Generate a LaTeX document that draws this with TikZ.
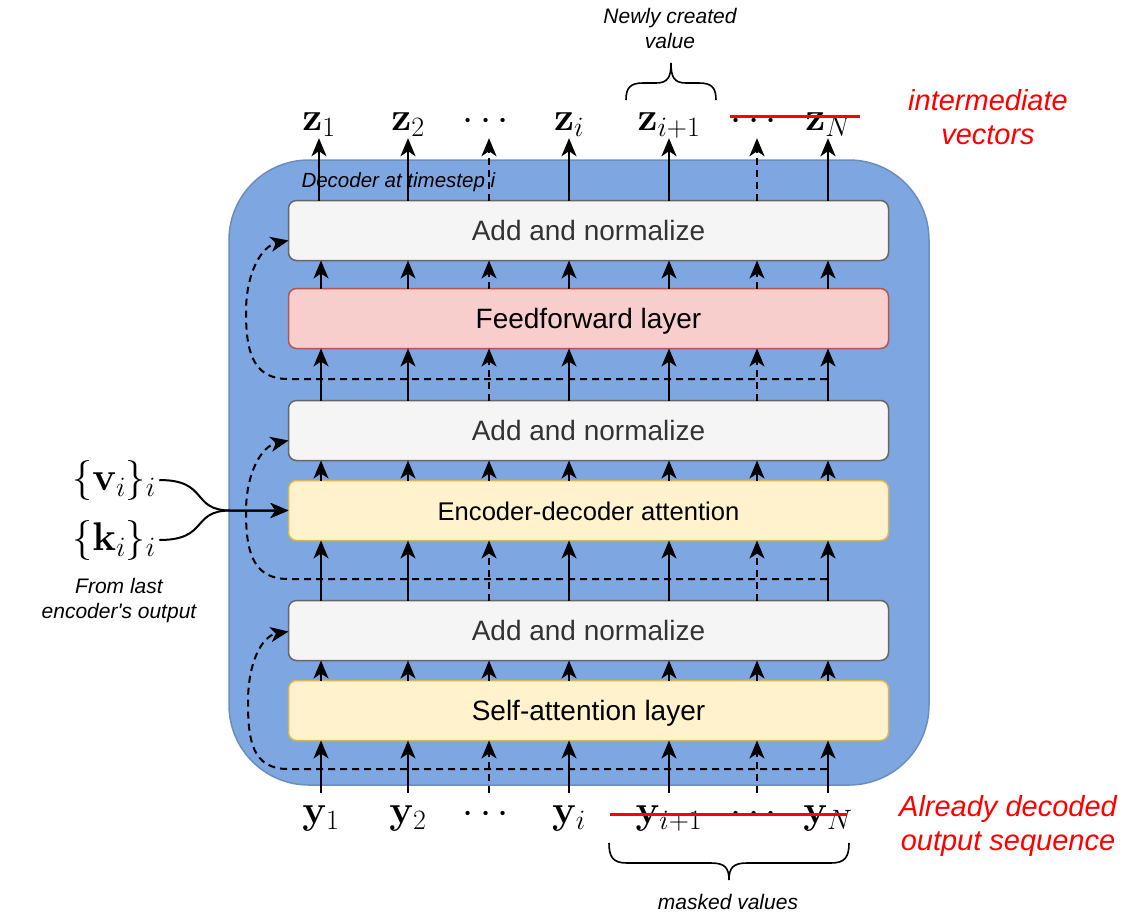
\RequirePackage{fix-cm}
\documentclass[tikz,border=0pt]{standalone}
\usepackage[no-math]{fontspec}
\setmainfont{Liberation Sans}
\usepackage{mathtools}
\usepackage{tikz}
\usetikzlibrary{positioning,arrows.meta}

\definecolor{decblue}{HTML}{7EA6E0}
\definecolor{decedge}{HTML}{6C8EBF}
\definecolor{normfill}{HTML}{F5F5F5}
\definecolor{normedge}{HTML}{666666}
\definecolor{normtext}{HTML}{333333}
\definecolor{fffill}{HTML}{F8CECC}
\definecolor{ffedge}{HTML}{B85450}
\definecolor{attfill}{HTML}{FFF2CC}
\definecolor{attedge}{HTML}{D6B656}

\tikzset{
  layerbox/.style = {shape = rectangle, rounded corners = 8pt, line width = 1.5pt,
    minimum width = 600pt, minimum height = 60pt, inner sep = 0pt, outer sep = 0pt,
    text height = 20.5pt, text depth = 0.5pt},
  normbox/.style = {layerbox, fill = normfill, draw = normedge, text = normtext,
    font = \fontsize{28}{32}\selectfont},
  ffbox/.style = {layerbox, fill = fffill, draw = ffedge, font = \fontsize{28}{32}\selectfont},
  attbox/.style = {layerbox, fill = attfill, draw = attedge, font = \fontsize{28}{32}\selectfont},
  veclbl/.style = {anchor = base, inner sep = 2pt, text height = 28pt, text depth = 6pt,
    font = \fontsize{40}{48}\selectfont},
  notelbl/.style = {align = center, font = \fontsize{21}{25}\selectfont\itshape},
  redlbl/.style = {align = center, text = red, font = \fontsize{29}{34}\selectfont\itshape},
  arr/.style = {line width = 2pt, -{Stealth[length = 18pt, width = 15pt, inset = 5pt]}},
  keep/.style = {},
  skip/.style = {dash pattern = on 7pt off 5pt},
  res/.style = {arr, skip},
  strike/.style = {line width = 3pt, red}
}

\begin{document}
\begin{tikzpicture}[x = 1pt, y = -1pt]
\useasboundingbox (0,0) rectangle (1130,922);

\node[shape = rectangle, rounded corners = 80pt, fill = decblue, draw = decedge, line width = 1.5pt,
  minimum width = 700pt, minimum height = 625pt] (10) at (579,472.5) {};
\node[anchor = west, font = \fontsize{20.5}{24}\selectfont\itshape] (50) at (298,182) {Decoder at timestep i};

\node[normbox] (11) at (588.5,230.5) {Add and normalize};
\node[ffbox, below = 28pt of 11] (12) {Feedforward layer};
\node[normbox, below = 52pt of 12] (13) {Add and normalize};
\node[attbox, below = 20pt of 13, font = \fontsize{25.6}{30}\selectfont] (14) {Encoder-decoder attention};
\node[normbox, below = 60pt of 14] (15) {Add and normalize};
\node[attbox, below = 20pt of 15] (16) {Self-attention layer};

% outputs
\node[veclbl] (21) at (319,130) {$\mathbf{z}_1$};
\node[veclbl] (22) at (408,130) {$\mathbf{z}_2$};
\node[veclbl] (23) at (489,130) {$\cdots$};
\node[veclbl] (24) at (569,130) {$\mathbf{z}_i$};
\node[veclbl] (25) at (669,130) {$\mathbf{z}_{i+1}$};
\node[veclbl] (26) at (757,130) {$\cdots$};
\node[veclbl] (27) at (828,130) {$\mathbf{z}_N$};
% inputs
\node[veclbl] (31) at (321,823) {$\mathbf{y}_1$};
\node[veclbl] (32) at (408,823) {$\mathbf{y}_2$};
\node[veclbl] (33) at (489,823) {$\cdots$};
\node[veclbl] (34) at (569,823) {$\mathbf{y}_i$};
\node[veclbl] (35) at (669,823) {$\mathbf{y}_{i+1}$};
\node[veclbl] (36) at (757,823) {$\cdots$};
\node[veclbl] (37) at (828,823) {$\mathbf{y}_N$};

\foreach \c/\s in {1/keep,2/keep,3/skip,4/keep,5/keep,6/skip,7/keep} {
  \draw[arr, \s] (3\c.north) -- (16.south -| 3\c);
  \draw[arr, \s] (16.north -| 3\c) -- (15.south -| 3\c);
  \draw[arr, \s] (15.north -| 3\c) -- (14.south -| 3\c);
  \draw[arr, \s] (14.north -| 3\c) -- (13.south -| 3\c);
  \draw[arr, \s] (13.north -| 3\c) -- (12.south -| 3\c);
  \draw[arr, \s] (12.north -| 3\c) -- (11.south -| 3\c);
  \draw[arr, \s] (11.north -| 2\c) -- (2\c.south);
}

% residual connections
\coordinate (61) at (827,379);
\coordinate (62) at (827,579);
\coordinate (63) at (827,769);
\draw[res] (61) -- (288,379) .. controls (252,379) and (246,350) .. (246,312)
  .. controls (246,272) and (262,246) .. ([yshift = -10pt]11.west);
\draw[res] (62) -- (288,579) .. controls (252,579) and (246,550) .. (246,512)
  .. controls (246,472) and (262,446) .. ([yshift = -10pt]13.west);
\draw[res] (63) -- (288,769) .. controls (252,769) and (248,740) .. (248,702)
  .. controls (248,662) and (262,636) .. ([yshift = -1pt]15.west);

% encoder side
\node[font = \fontsize{40}{48}\selectfont] (41) at (114,480) {$\{\mathbf{v}_i\}_i$};
\node[font = \fontsize{40}{48}\selectfont] (42) at (114,540) {$\{\mathbf{k}_i\}_i$};
\node[notelbl] (43) at (119,601) {From last\\encoder\textquotesingle s output};
\draw[arr] (41.east) .. controls +(50,0) and +(-40,0) .. ([xshift = -58pt]14.west) -- (14.west);
\draw[arr] (42.east) .. controls +(50,0) and +(-40,0) .. ([xshift = -58pt]14.west) -- (14.west);

% masks and notes
\draw[strike] (730,116) -- (860,116);
\draw[strike] (610,814) -- (847,814);
\draw[line width = 1.6pt] (626,100) .. controls (626,88) and (630,83) .. (643,83) -- (656,83)
  .. controls (668,83) and (671,77) .. (671,63) .. controls (671,77) and (674,83) .. (686,83)
  -- (699,83) .. controls (712,83) and (716,88) .. (716,100);
\draw[line width = 1.6pt] (609,843) .. controls (609,857) and (613,863) .. (627,863) -- (711,863)
  .. controls (725,863) and (729,868) .. (729,880) .. controls (729,868) and (733,863) .. (747,863)
  -- (831,863) .. controls (845,863) and (849,857) .. (849,843);
\node[notelbl] (52) at (670,28) {Newly created\\value};
\node[notelbl] (53) at (728,902) {masked values};
\node[redlbl] (54) at (988,117) {intermediate\\vectors};
\node[redlbl] (55) at (1008,826) {Already decoded\\output sequence};
\end{tikzpicture}
\end{document}
